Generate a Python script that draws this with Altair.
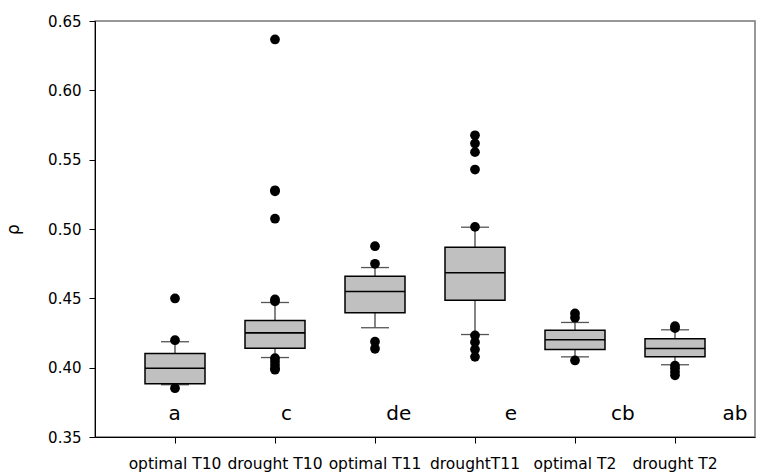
import altair as alt
import pandas as pd

groups = ["optimal T10", "drought T10", "optimal T11", "droughtT11", "optimal T2", "drought T2"]
q1 = [0.3884, 0.4140, 0.4396, 0.4487, 0.4131, 0.4078]
med = [0.3996, 0.4251, 0.4549, 0.4684, 0.4201, 0.4138]
q3 = [0.4102, 0.4340, 0.4660, 0.4869, 0.4270, 0.4208]
whisk_lo = [0.3877, 0.4073, 0.4288, 0.4239, 0.4078, 0.4021]
whisk_hi = [0.4187, 0.4470, 0.4722, 0.5013, 0.4326, 0.4273]
outliers = [
    [0.3852, 0.4198, 0.4499],
    [0.3985, 0.3995, 0.4020, 0.4045, 0.4068, 0.4478, 0.4492, 0.5074, 0.5271, 0.5279, 0.6367],
    [0.4136, 0.4187, 0.4749, 0.4876],
    [0.4078, 0.4131, 0.4184, 0.4232, 0.5015, 0.5429, 0.5554, 0.5617, 0.5676],
    [0.4052, 0.4360, 0.4391],
    [0.3945, 0.3970, 0.3995, 0.4015, 0.4285, 0.4299],
]
letters = ["a", "c", "de", "e", "cb", "ab"]

FONT = "DejaVu Sans"

stats = pd.DataFrame({"group": groups, "q1": q1, "med": med, "q3": q3,
                      "lo": whisk_lo, "hi": whisk_hi})
out_df = pd.DataFrame([{"group": g, "value": v} for g, vals in zip(groups, outliers) for v in vals])
let_df = pd.DataFrame({"idx": list(range(len(letters))), "letter": letters})

x_enc = alt.X("group:N", sort=groups,
              scale=alt.Scale(paddingInner=0.4, paddingOuter=0.5),
              axis=alt.Axis(title=None, labelAngle=0, labelFont=FONT, labelFontSize=15.5,
                            labelColor="black", labelPadding=13, tickSize=6,
                            tickColor="black", domainColor="black", grid=False))
y_scale = alt.Scale(domain=[0.35, 0.65], nice=False, zero=False)
y_axis = alt.Axis(title="ρ", values=[0.35, 0.40, 0.45, 0.50, 0.55, 0.60, 0.65], format=".2f",
                  labelFont=FONT, labelFontSize=15, labelColor="black", labelPadding=8,
                  tickSize=6, tickColor="black", domainColor="black", grid=False,
                  titleFont=FONT, titleFontSize=17, titleFontWeight="normal",
                  titleColor="black", titlePadding=25)

base = alt.Chart(stats)
whisker = base.mark_rule(color="#333333", strokeWidth=1.2).encode(
    x=x_enc, y=alt.Y("lo:Q", scale=y_scale, axis=y_axis), y2="hi:Q")
cap_lo = base.mark_tick(size=28, thickness=1.3, color="#555555", opacity=1).encode(
    x=x_enc, y=alt.Y("lo:Q", scale=y_scale, axis=y_axis))
cap_hi = base.mark_tick(size=28, thickness=1.3, color="#555555", opacity=1).encode(
    x=x_enc, y=alt.Y("hi:Q", scale=y_scale, axis=y_axis))
box = base.mark_bar(fill="#c0c0c0", stroke="black", strokeWidth=1.5, opacity=1).encode(
    x=x_enc, y=alt.Y("q1:Q", scale=y_scale, axis=y_axis), y2="q3:Q")
median = base.mark_tick(size=60, thickness=1.6, color="black", opacity=1).encode(
    x=x_enc, y=alt.Y("med:Q", scale=y_scale, axis=y_axis))
points = alt.Chart(out_df).mark_circle(size=95, color="black", opacity=1).encode(
    x=x_enc, y=alt.Y("value:Q", scale=y_scale, axis=y_axis))

boxes = alt.layer(whisker, cap_lo, cap_hi, box, median, points)

letter_layer = alt.Chart(let_df).mark_text(
    font=FONT, fontSize=20, color="black", align="center", baseline="alphabetic"
).encode(
    x=alt.X("idx:Q", scale=alt.Scale(domain=[-0.7092, 5.1784], nice=False, zero=False), axis=None),
    y=alt.datum(0.3626),
    text="letter:N",
)

chart = alt.layer(boxes, letter_layer).resolve_scale(x="independent").properties(
    width=660, height=416,
    padding={"left": 95, "top": 21, "right": 6, "bottom": 39},
    autosize=alt.AutoSizeParams(type="none"),
).configure_view(stroke="#777777", strokeWidth=1.5)

chart.save("out.html", embed_options={"renderer": "svg", "actions": False})
